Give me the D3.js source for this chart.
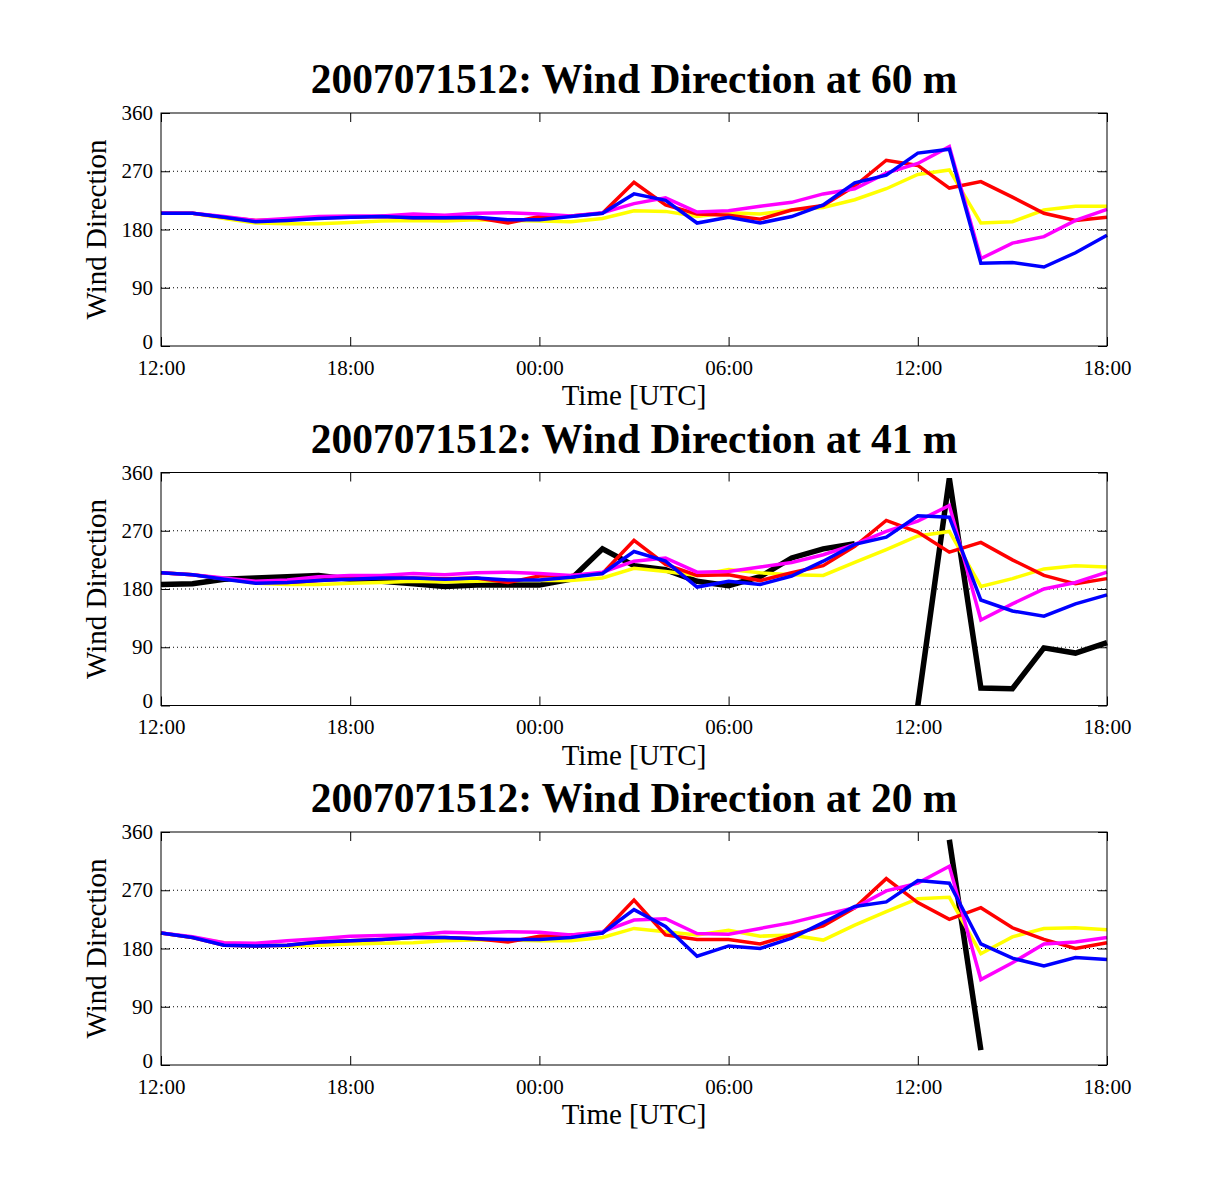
<!DOCTYPE html>
<html>
<head>
<meta charset="utf-8">
<script src="https://cdn.jsdelivr.net/npm/d3@7"></script>
<style>
  body { margin: 0; background: #fff; }
  svg { display: block; }
</style>
</head>
<body>
<svg id="chart" width="1227" height="1200"></svg>
<script>
// Hours since 2007-07-15 12:00 UTC
const hours = d3.range(0, 31);
const xTickHours = [0, 6, 12, 18, 24, 30];
const xTickLabels = ["12:00", "18:00", "00:00", "06:00", "12:00", "18:00"];
const yTicks = [0, 90, 180, 270, 360];
const gridValues = [90, 180, 270];
const heights = ["60", "41", "20"];
const titlePrefix = "2007071512: Wind Direction at ";
const seriesColors = { black: "#000000", yellow: "#ffff00", red: "#ff0000", magenta: "#ff00ff", blue: "#0000ff" };

// ---- 60 m ----
const yellow60 = [205,205,197,190,189,189,191,193,194,193,195,194,193,192,197,209,208,200,206,204,210,214,226,243,265,272,190,192,210,216,216];
const red60 = [205,205,199,194,195,198,199,200,198,198,198,190,200,201,205,253,218,204,202,196,210,217,247,287,279,244,254,230,205,194,199];
const magenta60 = [205,205,200,194,197,200,201,201,204,202,205,206,204,201,206,220,229,207,209,216,222,235,243,267,282,308,135,159,169,194,211];
const blue60 = [205,205,199,192,194,197,199,200,198,198,199,195,195,200,205,235,225,190,199,190,200,218,252,264,298,304,128,129,122,144,171];
const black60 = hours.map(() => null);

// ---- 41 m ----
const yellow41 = [205,202,196,189,187,187,189,190,192,191,192,193,193,193,197,212,207,201,210,205,202,201,221,241,262,269,184,196,211,216,214];
const red41 = [205,202,196,190,190,193,196,197,197,196,197,190,200,201,204,255,218,201,202,193,205,216,246,286,268,237,252,225,201,188,196];
const magenta41 = [205,202,197,192,194,199,201,201,204,202,205,206,204,201,206,223,228,206,207,214,221,233,249,269,285,309,132,157,180,190,206];
const blue41 = [205,202,195,189,190,193,195,197,197,195,197,194,194,198,204,238,223,183,192,187,200,223,249,260,293,291,163,146,138,157,171];
const black41 = [187,188,195,197,199,201,195,192,188,184,186,186,186,195,242,216,210,192,185,199,228,242,250,null,0,351,27,26,89,81,97];

// ---- 20 m ----
const yellow20 = [204,197,189,186,184,185,187,188,189,192,193,193,192,192,197,211,206,201,208,199,201,193,216,237,257,259,172,198,211,212,209];
const red20 = [204,197,185,184,185,190,192,194,197,197,195,190,199,201,204,255,201,194,194,187,201,215,243,288,251,225,243,212,194,180,189];
const magenta20 = [204,198,189,188,192,195,199,200,201,205,204,206,205,201,206,224,226,203,202,211,220,232,243,269,281,307,132,158,187,190,197];
const blue20 = [204,197,185,184,185,190,192,194,197,197,195,194,194,197,204,240,214,168,184,180,196,220,245,252,285,281,187,165,153,166,163];
const black20 = [null,null,null,null,null,null,null,null,null,null,null,null,null,null,null,null,null,null,null,null,null,null,null,null,null,348,23,null,null,null,null];

const panels = [
  { h: heights[0], series: [["black", black60], ["yellow", yellow60], ["red", red60], ["magenta", magenta60], ["blue", blue60]] },
  { h: heights[1], series: [["black", black41], ["yellow", yellow41], ["red", red41], ["magenta", magenta41], ["blue", blue41]] },
  { h: heights[2], series: [["black", black20], ["yellow", yellow20], ["red", red20], ["magenta", magenta20], ["blue", blue20]] }
];

const svg = d3.select("#chart");
const left = 161, right = 1107, plotH = 233;
const tops = [113, 472.5, 832];
const serif = "'Liberation Serif', 'Times New Roman', serif";

const x = d3.scaleLinear().domain([0, 30]).range([left, right]);

panels.forEach((p, i) => {
  const top = tops[i], bottom = top + plotH;
  const y = d3.scaleLinear().domain([0, 360]).range([bottom, top]);
  const g = svg.append("g");

  // grid
  g.selectAll(".grid").data(gridValues).enter().append("line")
    .attr("x1", left).attr("x2", right)
    .attr("y1", d => y(d)).attr("y2", d => y(d))
    .attr("stroke", "#000").attr("stroke-width", 1)
    .attr("stroke-dasharray", "1,3");

  // lines
  const line = d3.line()
    .defined(d => d[1] !== null)
    .x(d => x(d[0])).y(d => y(d[1]));
  p.series.forEach(([name, vals]) => {
    g.append("path")
      .datum(hours.map((h, k) => [h, vals[k]]))
      .attr("d", line)
      .attr("fill", "none")
      .attr("stroke", seriesColors[name])
      .attr("stroke-width", name === "black" ? 5.5 : 3.5)
      .attr("stroke-linejoin", "miter");
  });

  // frame
  g.append("rect").attr("x", left).attr("y", top).attr("width", right - left).attr("height", plotH)
    .attr("fill", "none").attr("stroke", "#000").attr("stroke-width", 1);

  // axes with inward ticks
  const xAxisB = d3.axisBottom(x).tickValues(xTickHours).tickSize(-9)
    .tickFormat((d, k) => xTickLabels[k]).tickPadding(14);
  const gx = g.append("g").attr("transform", `translate(0,${bottom})`).call(xAxisB);
  const xAxisT = d3.axisTop(x).tickValues(xTickHours).tickSize(-9).tickFormat("");
  const gxt = g.append("g").attr("transform", `translate(0,${top})`).call(xAxisT);
  const yAxisL = d3.axisLeft(y).tickValues(yTicks).tickSize(-9).tickPadding(8);
  const gy = g.append("g").attr("transform", `translate(${left},0)`).call(yAxisL);
  const yAxisR = d3.axisRight(y).tickValues(yTicks).tickSize(-9).tickFormat("");
  const gyr = g.append("g").attr("transform", `translate(${right},0)`).call(yAxisR);
  [gx, gxt, gy, gyr].forEach(a => {
    a.select(".domain").remove();
    a.selectAll("line").attr("stroke", "#000");
    a.selectAll("text").attr("font-family", serif).attr("font-size", 21).attr("fill", "#000");
  });
  // lift the "0" label slightly so it clears the first time label
  gy.selectAll(".tick").filter(d => d === 0).select("text").attr("dy", "0.1em");

  // title
  g.append("text").attr("x", (left + right) / 2).attr("y", top - 20)
    .attr("text-anchor", "middle").attr("font-family", serif)
    .attr("font-weight", "bold").attr("font-size", 41.5)
    .text(titlePrefix + p.h + " m");

  // x label
  g.append("text").attr("x", (left + right) / 2).attr("y", bottom + 59)
    .attr("text-anchor", "middle").attr("font-family", serif).attr("font-size", 29)
    .text("Time [UTC]");

  // y label
  g.append("text").attr("transform", `translate(106,${(top + bottom) / 2}) rotate(-90)`)
    .attr("text-anchor", "middle").attr("font-family", serif).attr("font-size", 29)
    .text("Wind Direction");
});
</script>
</body>
</html>
